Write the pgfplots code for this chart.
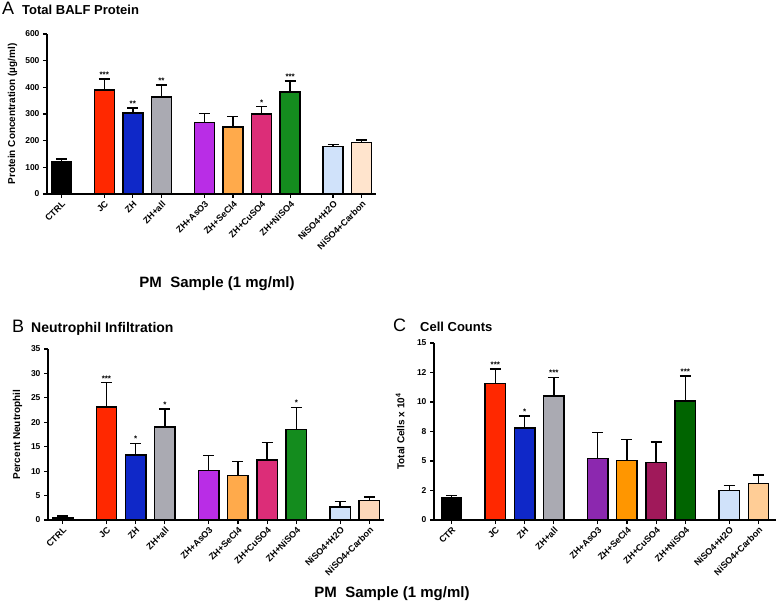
\documentclass[border=0pt]{standalone}
\usepackage{pgfplots}
\pgfplotsset{compat=1.18}
\usepackage{fontspec}
\setmainfont{Liberation Sans}
\definecolor{cJC}{RGB}{255,40,0}
\definecolor{cZH}{RGB}{15,40,200}
\definecolor{cAll}{RGB}{170,170,178}
\definecolor{cAsA}{RGB}{185,45,230}
\definecolor{cSeA}{RGB}{255,170,75}
\definecolor{cCuA}{RGB}{220,45,120}
\definecolor{cNiA}{RGB}{20,140,30}
\definecolor{cH2O}{RGB}{208,226,250}
\definecolor{cCarA}{RGB}{255,228,205}
\definecolor{cCarB}{RGB}{252,215,185}
\definecolor{cAsC}{RGB}{140,40,175}
\definecolor{cSeC}{RGB}{255,150,0}
\definecolor{cCuC}{RGB}{160,25,90}
\definecolor{cNiC}{RGB}{0,100,0}
\definecolor{cCarC}{RGB}{255,205,150}
\newcommand{\onebar}[4]{\addplot[ybar, bar width=0.7, bar shift=0pt, fill=#4, draw=black, line width=1.4pt,
  error bars/.cd, y dir=plus, y explicit,
  error bar style={line width=1.4pt, black, solid},
  error mark options={line width=1.4pt, mark size=5.5pt, black, rotate=90}]
  coordinates {(#1,#2) +- (0,#3)};}
\tikzset{starlab/.style={font=\bfseries\fontsize{8}{9}\selectfont, anchor=south, inner sep=1.5pt}}
\pgfplotsset{
  panel/.style={
    scale only axis,
    axis lines*=left,
    axis line style={line width=1.4pt},
    tick align=outside,
    major tick length=4pt,
    tick style={line width=1.2pt, black},
    xtick={0,1.5,2.5,3.5,5,6,7,8,9.5,10.5},
    xmin=-0.5, xmax=11,
    ymin=0,
    /pgf/number format/assume math mode=true,
    tick label style={font=\bfseries\fontsize{8.5}{10}\selectfont},
    xticklabel style={rotate=45, anchor=north east, inner sep=1.5pt, font=\bfseries\fontsize{9}{10}\selectfont},
    every axis y label/.style={at={(axis description cs:-0.1,0.5)}, rotate=90, anchor=center,
       font=\bfseries\fontsize{10}{11}\selectfont},
    clip=false,
  },
}
\begin{document}
\begin{tikzpicture}[x=1pt,y=1pt]
\useasboundingbox (0,0) rectangle (778,603);
% ---------------- Panel A
\begin{axis}[panel, at={(47pt,409pt)}, anchor=south west, width=329pt, height=160pt,
  ymax=600, ytick={0,100,...,600},
  xticklabels={CTRL,JC,ZH,ZH+all,ZH+AsO3,ZH+SeCl4,ZH+CuSO4,ZH+NiSO4,NiSO4+H2O,NiSO4+Carbon},
  ylabel={Protein Concentration (µg/ml)},
  every axis y label/.append style={at={(axis description cs:-0.105,0.5)}}]
\onebar{0}{120}{11}{black}
\onebar{1.5}{390}{41}{cJC}
\onebar{2.5}{304}{18}{cZH}
\onebar{3.5}{364}{44}{cAll}
\onebar{5}{269}{33}{cAsA}
\onebar{6}{251}{40}{cSeA}
\onebar{7}{300}{27}{cCuA}
\onebar{8}{383}{40}{cNiA}
\onebar{9.5}{178}{7}{cH2O}
\onebar{10.5}{193}{10}{cCarA}
\node[starlab] at (axis cs:1.5,431) {***};
\node[starlab] at (axis cs:2.5,322) {**};
\node[starlab] at (axis cs:3.5,408) {**};
\node[starlab] at (axis cs:7,327) {*};
\node[starlab] at (axis cs:8,423) {***};
\end{axis}
% ---------------- Panel B
\begin{axis}[panel, at={(48pt,83pt)}, anchor=south west, width=336pt, height=171pt,
  ymax=35, ytick={0,5,...,35},
  xticklabels={CTRL,JC,ZH,ZH+all,ZH+AsO3,ZH+SeCl4,ZH+CuSO4,ZH+NiSO4,NiSO4+H2O,NiSO4+Carbon},
  ylabel={Percent Neutrophil},
  every axis y label/.append style={at={(axis description cs:-0.091,0.5)}}]
\onebar{0}{0.5}{0.3}{black}
\onebar{1.5}{23.1}{5.0}{cJC}
\onebar{2.5}{13.3}{2.4}{cZH}
\onebar{3.5}{19.0}{3.7}{cAll}
\onebar{5}{10.1}{3.1}{cAsA}
\onebar{6}{9.1}{2.9}{cSeA}
\onebar{7}{12.3}{3.6}{cCuA}
\onebar{8}{18.5}{4.5}{cNiA}
\onebar{9.5}{2.7}{1.05}{cH2O}
\onebar{10.5}{3.96}{0.75}{cCarB}
\node[starlab] at (axis cs:1.5,28.1) {***};
\node[starlab] at (axis cs:2.5,15.7) {*};
\node[starlab] at (axis cs:3.5,22.7) {*};
\node[starlab] at (axis cs:8,23.0) {*};
\end{axis}
% ---------------- Panel C
\begin{axis}[panel, at={(434pt,83pt)}, anchor=south west, width=342pt, height=177pt,
  xmin=-0.6, xmax=11.1,
  ymax=15, ytick={0,2.5,5,7.5,10,12.5,15}, yticklabels={0,2,5,8,10,12,15},
  xticklabels={CTR,JC,ZH,ZH+all,ZH+AsO3,ZH+SeCl4,ZH+CuSO4,ZH+NiSO4,NiSO4+H2O,NiSO4+Carbon},
  ylabel={Total Cells x 10\textsuperscript{4}},
  every axis y label/.append style={at={(axis description cs:-0.099,0.5)}}]
\onebar{0}{1.89}{0.2}{black}
\onebar{1.5}{11.55}{1.25}{cJC}
\onebar{2.5}{7.8}{1.0}{cZH}
\onebar{3.5}{10.5}{1.6}{cAll}
\onebar{5}{5.2}{2.2}{cAsC}
\onebar{6}{5.04}{1.76}{cSeC}
\onebar{7}{4.87}{1.73}{cCuC}
\onebar{8}{10.1}{2.1}{cNiC}
\onebar{9.5}{2.48}{0.42}{cH2O}
\onebar{10.5}{3.07}{0.76}{cCarC}
\node[starlab] at (axis cs:1.5,12.8) {***};
\node[starlab] at (axis cs:2.5,8.8) {*};
\node[starlab] at (axis cs:3.5,12.1) {***};
\node[starlab] at (axis cs:8,12.2) {***};
\end{axis}
% ---------------- titles
\node[anchor=base west, inner sep=0, font=\fontsize{18}{20}\selectfont] at (2,588) {A};
\node[anchor=base west, inner sep=0, font=\bfseries\fontsize{13}{15}\selectfont] at (22,588) {Total BALF Protein};
\node[anchor=base west, inner sep=0, font=\fontsize{18}{20}\selectfont] at (12,271) {B};
\node[anchor=base west, inner sep=0, font=\bfseries\fontsize{14}{16}\selectfont] at (31,271) {Neutrophil Infiltration};
\node[anchor=base west, inner sep=0, font=\fontsize{18}{20}\selectfont] at (393,272) {C};
\node[anchor=base west, inner sep=0, font=\bfseries\fontsize{13}{15}\selectfont] at (420,272) {Cell Counts};
\node[anchor=base, inner sep=0, font=\bfseries\fontsize{15}{17}\selectfont] at (217,316) {PM\ \ Sample (1 mg/ml)};
\node[anchor=base, inner sep=0, font=\bfseries\fontsize{15}{17}\selectfont] at (392,6) {PM\ \ Sample (1 mg/ml)};
\end{tikzpicture}
\end{document}
